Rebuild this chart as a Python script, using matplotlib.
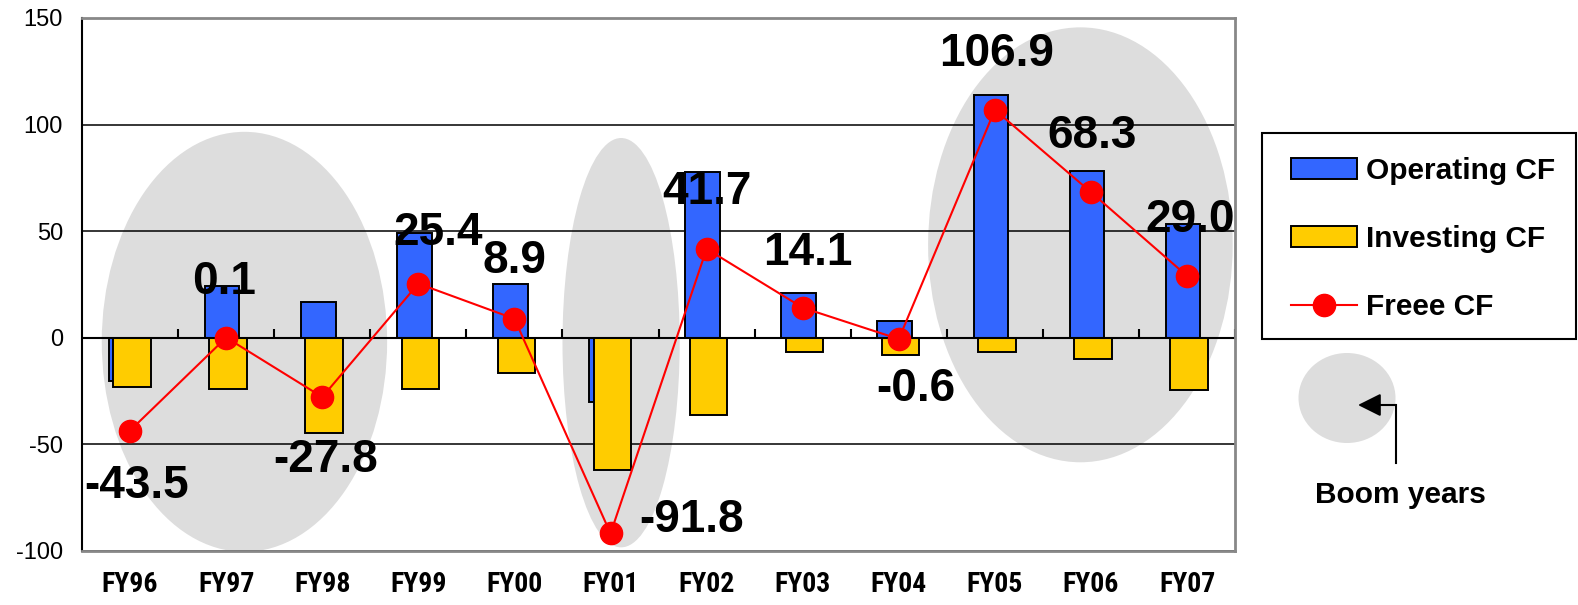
import numpy as np
import matplotlib
matplotlib.use("Agg")
import matplotlib.pyplot as plt
from matplotlib import font_manager as fm
from matplotlib.patches import Ellipse, FancyArrowPatch, Rectangle
from matplotlib.lines import Line2D

years = ['FY96', 'FY97', 'FY98', 'FY99', 'FY00', 'FY01',
         'FY02', 'FY03', 'FY04', 'FY05', 'FY06', 'FY07']
operating = [-20.4, 24.3, 17.0, 49.3, 25.2, -29.9, 77.8, 20.9, 7.7, 113.8, 78.3, 53.5]
investing = [-23.1, -24.2, -44.8, -23.9, -16.3, -61.9, -36.1, -6.8, -8.3, -6.9, -10.0, -24.5]
free = [-43.5, 0.1, -27.8, 25.4, 8.9, -91.8, 41.7, 14.1, -0.6, 106.9, 68.3, 29.0]

# label offsets in pixels from each free CF point
label_off = [(6, -50), (-2, 61), (3, -58), (20, 56), (0, 63), (81, 18),
             (0, 62), (5, 60), (17, -45), (2, 61), (1, 61), (3, 61)]
# boom-year ellipses: centre x, centre y, width, height (data units)
booms = [(1.19, -1.9, 2.97, 197), (5.11, -2.3, 1.22, 192), (9.89, 43.6, 3.17, 204)]

# look for a narrow bold face for the year labels
narrow = None
for f in fm.fontManager.ttflist:
    if f.name in ('Liberation Sans Narrow', 'Roboto Condensed', 'Arial Narrow'):
        narrow = (f.name, 'normal')
        break
if narrow is None:
    for f in fm.fontManager.ttflist:
        if f.name == 'DejaVu Sans' and str(f.stretch) in ('condensed', 'semi-condensed', '87.5', '75'):
            narrow = ('DejaVu Sans', 'condensed')
            break

plt.rcParams['font.family'] = ['Liberation Sans', 'DejaVu Sans']
plt.rcParams['axes.unicode_minus'] = False

BLUE = '#3366FF'
YELLOW = '#FFCC00'
GREY = '#DDDDDD'
W, H = 1578, 605

fig = plt.figure(figsize=(15.78, 6.05), dpi=100)
ax = fig.add_axes([0.052, 0.0893, 0.7307, 0.881])

x = np.arange(len(years))

for cx, cy, w, h in booms:
    ax.add_patch(Ellipse((cx, cy), w, h, facecolor=GREY, edgecolor='none',
                         zorder=0.2, clip_on=False))

ax.set_axisbelow(True)
ax.yaxis.grid(True, color='black', lw=1.1)

b1 = ax.bar(x - 0.042, operating, width=0.36, color=BLUE, edgecolor='black', lw=1.4,
            zorder=2, label='Operating CF')
b2 = ax.bar(x + 0.02, investing, width=0.39, color=YELLOW, edgecolor='black', lw=1.4,
            zorder=2.1, label='Investing CF')

ax.axhline(0, color='black', lw=1.5, zorder=2.5)
ax.vlines(np.arange(0.5, 12), 0, 4.2, color='black', lw=1.5, zorder=2.5)

ln, = ax.plot(x, free, color='red', lw=1.5, marker='o', ms=16, mec='red', mfc='red',
              zorder=3, label='Freee CF')

for i, v in enumerate(free):
    ax.annotate(f'{v:.1f}', (x[i], v), xytext=label_off[i], textcoords='offset pixels',
                ha='center', va='center_baseline', fontsize=33, fontweight='bold',
                zorder=5)

ax.set_xlim(-0.5, 11.5)
ax.set_ylim(-100, 150)
ax.set_yticks(np.arange(-100, 151, 50))
ax.tick_params(axis='y', length=0, pad=13.7, labelsize=17)
ax.set_xticks(x)
if narrow:
    ax.set_xticklabels(years, fontsize=20, fontweight='bold',
                       family=[narrow[0], 'DejaVu Sans'], fontstretch=narrow[1])
    ax.tick_params(axis='x', length=0, pad=14.5)
else:
    ax.set_xticklabels(years, fontsize=18, fontweight='bold')
    ax.tick_params(axis='x', length=0, pad=16)

for s in ['top', 'right', 'bottom']:
    ax.spines[s].set_color('#888888')
    ax.spines[s].set_linewidth(2)
ax.spines['left'].set_color('black')
ax.spines['left'].set_linewidth(1.5)

# legend: frame drawn separately so the entries can sit where the original has them
fig.add_artist(Rectangle((1262 / W, 1 - 339 / H), 314 / W, 206 / H,
                         transform=fig.transFigure, facecolor='white',
                         edgecolor='black', lw=1.5, zorder=1))
leg = fig.legend([b1, b2, ln], ['Operating CF', 'Investing CF', 'Freee CF'],
                 loc='upper left', bbox_to_anchor=(1291 / W, 1 - 157 / H),
                 bbox_transform=fig.transFigure, borderaxespad=0, borderpad=0,
                 prop={'weight': 'bold', 'size': 21.5},
                 handlelength=2.2, handletextpad=0.3, labelspacing=1.34,
                 frameon=False)
leg.set_zorder(2)

# "Boom years" key
fig.add_artist(Ellipse((1347 / W, 1 - 398 / H), 97 / W, 90 / H,
                       transform=fig.transFigure, facecolor=GREY, edgecolor='none'))
fig.add_artist(Line2D([1395.7 / W, 1395.7 / W], [1 - 463 / H, 1 - 405 / H],
                      transform=fig.transFigure, color='black', lw=1.5))
fig.add_artist(FancyArrowPatch((1395.7 / W, 1 - 405 / H), (1358 / W, 1 - 405 / H),
                               transform=fig.transFigure,
                               arrowstyle='-|>,head_length=0.7,head_width=0.35',
                               mutation_scale=20, color='black', lw=1.5,
                               shrinkA=0, shrinkB=0))
fig.text(1400 / W, 1 - 492 / H, 'Boom years', ha='center', va='center_baseline',
         fontsize=21.5, fontweight='bold')

fig.savefig('out.png', dpi=100)
